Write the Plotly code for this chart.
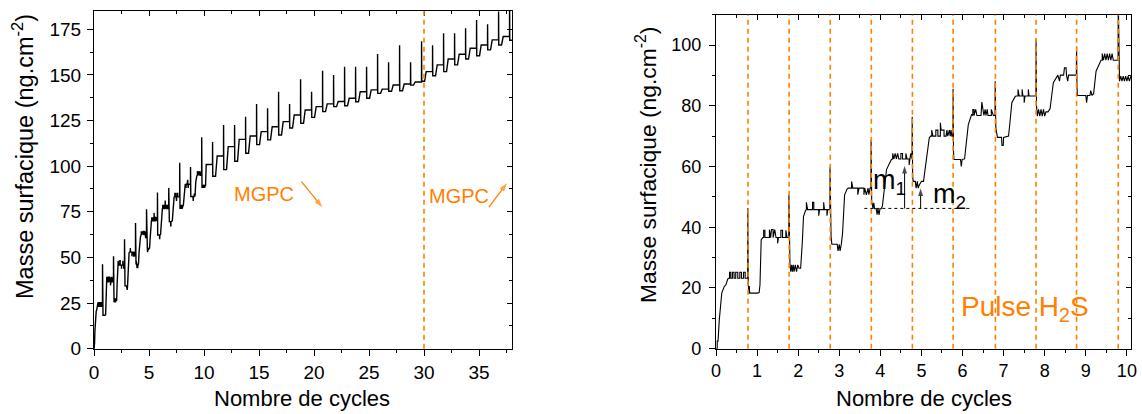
import plotly.graph_objects as go

# ---------------- DATA ----------------
# Detailed QCM trace, cycles 0 -> ~10.8 (shared by both panels); (cycle, ng/cm2) pairs per H2S cycle
seg0 = [(0.0, 0.0), (0.03, 0.0), (0.03, 2.5), (0.05, 2.5), (0.08, 9.5), (0.14, 18.3), (0.2, 20.5),
        (0.24, 21.0), (0.28, 22.7), (0.3, 23.2), (0.33, 23.2), (0.33, 25.2), (0.36, 25.2), (0.36, 23.2),
        (0.4, 23.2), (0.4, 25.2), (0.44, 25.2), (0.44, 23.2), (0.48, 23.2), (0.48, 25.2), (0.53, 25.2),
        (0.53, 23.2), (0.58, 23.2), (0.58, 25.2), (0.62, 25.2), (0.62, 23.2), (0.67, 23.2), (0.67, 25.2),
        (0.71, 25.2), (0.71, 23.2), (0.77, 23.2)]
seg1 = [(0.775, 46.3), (0.785, 22.0), (0.79, 20.6), (0.80, 18.3), (0.81, 20.6), (0.82, 18.3), (1.0, 18.3),
        (1.05, 18.5), (1.07, 21.0), (1.1, 35.9), (1.14, 36.6), (1.16, 36.6), (1.16, 39.0), (1.19, 39.0),
        (1.19, 36.6), (1.3, 36.6), (1.3, 39.2), (1.33, 36.6), (1.35, 39.2), (1.39, 39.2), (1.39, 36.6),
        (1.43, 39.2), (1.46, 36.6), (1.5, 36.6), (1.5, 34.7), (1.52, 36.6), (1.58, 36.6), (1.58, 39.0),
        (1.62, 39.0), (1.62, 36.6), (1.7, 36.6), (1.7, 39.0), (1.73, 36.6), (1.77, 36.6)]
seg2 = [(1.775, 50.7), (1.785, 30.0), (1.79, 29.8), (1.8, 27.6), (1.82, 25.4), (1.84, 27.6), (1.86, 25.4),
        (1.88, 27.6), (1.9, 25.4), (1.93, 27.6), (1.96, 25.4), (1.99, 27.6), (2.02, 26.5), (2.06, 26.5),
        (2.1, 35.0), (2.13, 43.6), (2.18, 45.5), (2.2, 45.8), (2.2, 48.2), (2.23, 45.8), (2.35, 45.8),
        (2.35, 48.2), (2.38, 48.2), (2.38, 45.8), (2.5, 45.8), (2.5, 43.8), (2.52, 45.8), (2.62, 45.8),
        (2.62, 48.2), (2.64, 45.8), (2.7, 45.8), (2.7, 43.8), (2.72, 45.8), (2.77, 45.8)]
seg3 = [(2.775, 59.9), (2.785, 40.0), (2.8, 37.0), (2.82, 34.4), (2.95, 34.4), (2.97, 32.2), (3.0, 34.4),
        (3.02, 32.2), (3.05, 34.4), (3.08, 38.0), (3.13, 50.7), (3.19, 52.6), (3.22, 52.9), (3.3, 52.9),
        (3.3, 55.1), (3.33, 52.9), (3.45, 52.9), (3.45, 50.7), (3.48, 52.9), (3.6, 52.9), (3.6, 50.7),
        (3.62, 52.9), (3.66, 50.7), (3.7, 52.9), (3.72, 50.7), (3.75, 52.9), (3.77, 52.9)]
seg4 = [(3.775, 68.9), (3.785, 50.0), (3.79, 47.5), (3.8, 48.0), (3.82, 46.1), (3.84, 48.0), (3.86, 46.1),
        (3.9, 46.1), (3.92, 44.1), (3.94, 46.1), (3.97, 44.1), (3.99, 46.1), (4.02, 46.1), (4.05, 47.0),
        (4.1, 53.0), (4.15, 59.0), (4.22, 61.0), (4.27, 62.3), (4.3, 62.5), (4.3, 64.3), (4.33, 62.5),
        (4.36, 64.3), (4.39, 62.5), (4.42, 64.3), (4.45, 62.5), (4.5, 62.5), (4.5, 64.3), (4.54, 64.3),
        (4.54, 62.5), (4.62, 62.5), (4.62, 64.3), (4.65, 62.5), (4.7, 62.5), (4.7, 60.5), (4.72, 62.5),
        (4.74, 64.3), (4.77, 62.5)]
seg5 = [(4.775, 76.4), (4.785, 58.0), (4.79, 56.0), (4.8, 55.1), (4.85, 55.1), (4.87, 52.9), (4.9, 55.1),
        (4.92, 52.9), (4.95, 54.0), (5.0, 55.1), (5.05, 55.1), (5.1, 60.0), (5.12, 63.4), (5.19, 69.4),
        (5.22, 70.0), (5.25, 70.0), (5.25, 72.0), (5.28, 70.0), (5.35, 70.0), (5.35, 72.0), (5.4, 72.0),
        (5.4, 70.0), (5.46, 70.0), (5.46, 74.4), (5.48, 72.0), (5.55, 72.0), (5.55, 70.0), (5.6, 70.0),
        (5.62, 72.0), (5.64, 70.0), (5.68, 72.0), (5.7, 70.0), (5.72, 72.0), (5.74, 70.0), (5.765, 70.0)]
seg6 = [(5.77, 85.6), (5.78, 65.0), (5.79, 62.3), (5.95, 62.3), (5.97, 60.0), (5.99, 62.3), (6.05, 62.5),
        (6.1, 68.0), (6.14, 73.8), (6.22, 77.1), (6.25, 76.8), (6.25, 78.8), (6.28, 78.8), (6.28, 76.8),
        (6.32, 78.8), (6.35, 76.8), (6.45, 76.8), (6.47, 81.2), (6.49, 78.8), (6.52, 76.8), (6.55, 78.8),
        (6.57, 76.8), (6.6, 78.8), (6.62, 76.8), (6.7, 76.8), (6.7, 78.8), (6.75, 76.8), (6.79, 76.8)]
seg7 = [(6.795, 88.1), (6.805, 75.0), (6.81, 72.7), (6.85, 69.6), (6.95, 69.6), (6.96, 66.9), (6.99, 66.9),
        (7.0, 69.6), (7.12, 70.0), (7.15, 74.0), (7.2, 81.0), (7.28, 83.0), (7.3, 83.2), (7.35, 83.2),
        (7.35, 85.4), (7.38, 83.2), (7.45, 83.2), (7.45, 85.4), (7.47, 83.2), (7.5, 83.2), (7.5, 81.0),
        (7.52, 83.2), (7.6, 83.2), (7.6, 85.4), (7.62, 83.2), (7.785, 83.2)]
seg8 = [(7.79, 101.9), (7.80, 80.0), (7.82, 76.6), (7.85, 78.8), (7.88, 76.6), (7.91, 78.8), (7.94, 76.6),
        (7.97, 78.8), (8.0, 76.6), (8.03, 78.0), (8.08, 78.0), (8.13, 79.0), (8.21, 87.6), (8.29, 89.8),
        (8.32, 90.1), (8.36, 88.1), (8.38, 90.1), (8.46, 90.1), (8.48, 92.5), (8.52, 92.5), (8.53, 90.1),
        (8.56, 88.1), (8.58, 90.1), (8.77, 90.1)]
seg9 = [(8.775, 99.5), (8.785, 86.0), (8.8, 83.4), (9.0, 83.4), (9.02, 81.0), (9.04, 83.4), (9.1, 83.4),
        (9.12, 85.0), (9.15, 83.4), (9.19, 84.0), (9.25, 91.4), (9.35, 94.7), (9.37, 95.0), (9.4, 95.0),
        (9.4, 97.2), (9.43, 95.0), (9.46, 97.2), (9.49, 95.0), (9.52, 97.2), (9.55, 95.0), (9.58, 97.2),
        (9.61, 95.0), (9.64, 97.2), (9.67, 95.0), (9.785, 95.0)]
seg10 = [(9.79, 115.8), (9.80, 95.0), (9.81, 89.8), (9.82, 88.1), (9.85, 89.8), (9.88, 88.1), (9.91, 89.8),
         (9.94, 88.1), (9.97, 89.8), (10.0, 88.1), (10.03, 89.8), (10.06, 88.1), (10.1, 89.8), (10.14, 89.0),
         (10.2, 100.9), (10.775, 100.9)]

# Long run (left panel), one entry per H2S pulse from cycle 10 to 37
run_pulse_time = [10.78, 11.78, 12.78, 13.78, 14.78, 15.78, 16.78, 17.78, 18.78, 19.78,
                  20.78, 21.78, 22.78, 23.78, 24.78, 25.78, 26.78, 27.78, 28.78, 29.78,
                  30.78, 31.78, 32.78, 33.78, 34.78, 35.78, 36.78, 37.78]
run_spike = [113.3, 122.6, 122.6, 127.1, 134.1, 131.7, 140.8, 134.1, 147.6, 140.8,
             152.2, 150.0, 154.5, 154.5, 154.5, 161.5, 156.9, 166.2, 156.9, 168.4,
             166.2, 172.8, 172.8, 175.6, 180.1, 177.7, 184.7, 195.0]
run_dip = [94.5, 98.1, 102.7, 107.1, 111.8, 114.4, 117.1, 120.9, 123.5, 126.7,
           129.9, 132.6, 133.1, 135.3, 137.2, 139.9, 141.0, 141.3, 144.4, 146.5,
           149.5, 151.8, 155.5, 158.7, 160.5, 163.7, 166.4, 169.0]
run_plateau = [105.6, 110.7, 114.7, 116.5, 118.9, 121.6, 124.4, 128.0, 130.8, 132.6,
               134.1, 135.4, 137.2, 140.8, 141.8, 142.2, 144.5, 145.0, 146.1, 151.8,
               155.5, 158.7, 161.3, 164.6, 166.4, 169.2, 171.0, 171.0]
DIP_END = 0.27    # cycles after the pulse where the mass starts rising again
RISE_END = 0.42   # cycles after the pulse where the new plateau is reached

# H2S pulse positions (right panel) and MGPC change (left panel)
pulse_times = [0.78, 1.78, 2.78, 3.78, 4.78, 5.77, 6.80, 7.79, 8.775, 9.79]
mgpc_cycle = 30

# ---------------- BUILD TRACES ----------------
detail = seg0 + seg1 + seg2 + seg3 + seg4 + seg5 + seg6 + seg7 + seg8 + seg9 + seg10
dx = [p[0] for p in detail]
dy = [p[1] for p in detail]

lx, ly = list(dx), list(dy)
for i, t in enumerate(run_pulse_time):
    lx += [t, t + 0.015, t + DIP_END, t + RISE_END]
    ly += [run_spike[i], run_dip[i], run_dip[i], run_plateau[i]]
    nxt = run_pulse_time[i + 1] - 0.005 if i + 1 < len(run_pulse_time) else 38.2
    lx.append(nxt)
    ly.append(run_plateau[i])

ORANGE = "rgb(255,128,0)"
FONT = "Liberation Sans, Arial, sans-serif"

fig = go.Figure()
fig.add_trace(go.Scatter(x=lx, y=ly, mode="lines", line=dict(color="black", width=1.4),
                         xaxis="x", yaxis="y", showlegend=False, hoverinfo="skip"))
fig.add_trace(go.Scatter(x=dx, y=dy, mode="lines", line=dict(color="black", width=1.1),
                         xaxis="x2", yaxis="y2", showlegend=False, hoverinfo="skip"))
# empty traces so the mirrored inside-tick axes get drawn
for xa, ya in [("x3", "y"), ("x", "y3"), ("x4", "y2"), ("x2", "y4")]:
    fig.add_trace(go.Scatter(x=[None], y=[None], xaxis=xa, yaxis=ya, showlegend=False, hoverinfo="skip"))


def arrow(x0, y0, x1, y1, xa, ya, color, width, size):
    fig.add_trace(go.Scatter(x=[x0, x1], y=[y0, y1], mode="lines+markers", xaxis=xa, yaxis=ya,
                             line=dict(color=color, width=width),
                             marker=dict(symbol="arrow", size=[0, size], angleref="previous", color=color,
                                         line=dict(width=0)),
                             showlegend=False, hoverinfo="skip", cliponaxis=False))


# MGPC arrows (left panel)
arrow(18.86, 91.5, 20.75, 77.5, "x", "y", ORANGE, 1.3, 9)
arrow(35.9, 77.5, 37.55, 90.8, "x", "y", ORANGE, 1.3, 9)
# m1 / m2 arrows (right panel)
M_BASE = 46.2
arrow(4.59, M_BASE, 4.59, 60.2, "x2", "y2", "black", 1, 8)
arrow(4.98, M_BASE, 4.98, 52.8, "x2", "y2", "black", 1, 8)

L_DOM_X = [94 / 1142, 512 / 1142]
L_DOM_Y = [65.3 / 414, 403 / 414]
R_DOM_X = [716 / 1142, 1131 / 1142]
R_DOM_Y = [65.3 / 414, 399.3 / 414]


def main_axis(rng, dtick, minor, dom, anchor, size, standoff=None):
    d = dict(range=rng, domain=dom, anchor=anchor, dtick=dtick, tick0=0, automargin=False,
             ticks="outside", ticklen=6, tickwidth=1.1, tickcolor="black",
             minor=dict(dtick=minor, tick0=0, ticks="outside", ticklen=3, tickwidth=1.1, tickcolor="black"),
             showline=True, linecolor="black", linewidth=1.2, mirror=True,
             showgrid=False, zeroline=False,
             tickfont=dict(family=FONT, size=size, color="black"))
    if standoff is not None:
        d["ticklabelstandoff"] = standoff
    return d


def mirror_axis(rng, dtick, minor, side, overlay, anchor):
    return dict(range=rng, overlaying=overlay, side=side, anchor=anchor, dtick=dtick, tick0=0,
                automargin=False,
                ticks="inside", ticklen=5, tickwidth=1.1, tickcolor="black",
                minor=dict(dtick=minor, tick0=0, ticks="inside", ticklen=3, tickwidth=1.1, tickcolor="black"),
                showline=False, showgrid=False, zeroline=False, showticklabels=False)


fig.update_layout(
    width=1142, height=414, autosize=False,
    margin=dict(l=0, r=0, t=0, b=0, pad=0, autoexpand=False),
    paper_bgcolor="white", plot_bgcolor="white",
    font=dict(family=FONT, color="black"),
    xaxis=main_axis([0, 38], 5, 2.5, L_DOM_X, "y", 19),
    yaxis=main_axis([0, 185], 25, 12.5, L_DOM_Y, "x", 19, 2),
    xaxis2=main_axis([0, 10.1], 1, 0.5, R_DOM_X, "y2", 18),
    yaxis2=main_axis([0, 110], 20, 10, R_DOM_Y, "x2", 18, 4),
    xaxis3=mirror_axis([0, 38], 5, 2.5, "top", "x", "y"),
    yaxis3=mirror_axis([0, 185], 25, 12.5, "right", "y", "x"),
    xaxis4=mirror_axis([0, 10.1], 1, 0.5, "top", "x2", "y2"),
    yaxis4=mirror_axis([0, 110], 20, 10, "right", "y2", "x2"),
)

# dashed orange pulse markers
shapes = [dict(type="line", xref="x", yref="y domain", x0=mgpc_cycle, x1=mgpc_cycle, y0=0, y1=1,
               line=dict(color=ORANGE, width=1.6, dash="5px,4px"))]
for t in pulse_times:
    shapes.append(dict(type="line", xref="x2", yref="y2 domain", x0=t, x1=t, y0=0, y1=1,
                       line=dict(color=ORANGE, width=1.6, dash="5px,4px")))
# reference level for m1 / m2
shapes.append(dict(type="line", xref="x2", yref="y2", x0=3.61, x1=6.22, y0=M_BASE, y1=M_BASE,
                   line=dict(color="black", width=1, dash="3px,3px")))
fig.update_layout(shapes=shapes)

ann = []
ytitle = "Masse surfacique (ng.cm<sup>-2</sup>)"
ann.append(dict(text="Nombre de cycles", xref="paper", yref="paper", x=302 / 1142, y=(414 - 398) / 414,
                showarrow=False, xanchor="center", yanchor="middle", font=dict(size=22)))
ann.append(dict(text="Nombre de cycles", xref="paper", yref="paper", x=924 / 1142, y=(414 - 398) / 414,
                showarrow=False, xanchor="center", yanchor="middle", font=dict(size=22)))
ann.append(dict(text=ytitle, xref="paper", yref="paper", x=23 / 1142, y=(414 - 157) / 414, textangle=-90,
                showarrow=False, xanchor="center", yanchor="middle", font=dict(size=23.5)))
ann.append(dict(text=ytitle, xref="paper", yref="paper", x=646 / 1142, y=(414 - 165) / 414, textangle=-90,
                showarrow=False, xanchor="center", yanchor="middle", font=dict(size=22.8)))
ann.append(dict(text="MGPC", xref="x", yref="y", x=15.49, y=84.8, showarrow=False,
                font=dict(size=20, color=ORANGE), xanchor="center", yanchor="middle"))
ann.append(dict(text="MGPC", xref="x", yref="y", x=33.18, y=83.7, showarrow=False,
                font=dict(size=20, color=ORANGE), xanchor="center", yanchor="middle"))
ann.append(dict(text="m<sub>1</sub>", xref="x2", yref="y2", x=3.76, y=55.0, showarrow=False,
                xanchor="left", yanchor="middle", font=dict(size=27, color="black")))
ann.append(dict(text="m<sub>2</sub>", xref="x2", yref="y2", x=5.23, y=50.3, showarrow=False,
                xanchor="left", yanchor="middle", font=dict(size=27, color="black")))
ann.append(dict(text="Pulse H<sub>2</sub>S", xref="x2", yref="y2", x=7.52, y=13.2, showarrow=False,
                xanchor="center", yanchor="middle", font=dict(size=28, color=ORANGE)))
fig.update_layout(annotations=ann)

fig.write_html("out.html", config={"displayModeBar": False},
               post_script="document.body.style.margin='0';")
